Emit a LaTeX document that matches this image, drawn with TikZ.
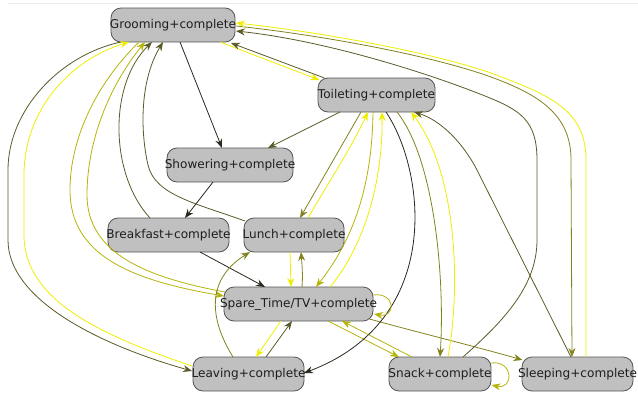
\documentclass[tikz,border=0pt]{standalone}
\usepackage{fontspec}
\setmainfont{DejaVu Sans}
\usetikzlibrary{arrows.meta,calc}
\definecolor{nodefill}{RGB}{192,192,192}
\definecolor{nodeborder}{RGB}{85,85,85}
\definecolor{textc}{RGB}{30,30,30}
\definecolor{cdark}{RGB}{40,40,28}
\definecolor{cdolive}{RGB}{90,90,40}
\definecolor{colive}{RGB}{130,130,30}
\definecolor{cyolive}{RGB}{180,180,10}
\definecolor{cyellow}{RGB}{238,238,0}
\definecolor{frameline}{RGB}{235,235,235}
\newcommand{\nodefnt}{\fontsize{12.1}{14}\selectfont}
\tikzset{
  st/.style={draw=nodeborder, fill=nodefill, rounded corners=10pt, minimum height=34pt,
             inner ysep=0pt, inner xsep=-12pt, text=textc, font=\nodefnt, line width=0.8pt},
  e/.style={-{Stealth[length=9pt,width=7pt,inset=3pt]}, line width=0.8pt},
  kdark/.style={e, draw=cdark},
  kdolive/.style={e, draw=cdolive},
  kolive/.style={e, draw=colive},
  kyolive/.style={e, draw=cyolive},
  kyellow/.style={e, draw=cyellow},
}
\begin{document}
\begin{tikzpicture}[x=1pt,y=-1pt]
\useasboundingbox (0,0) rectangle (638,394);
\draw[frameline, line width=1pt] (8,3) -- (638,3);

% nodes
\node[st, minimum width=124pt] (G) at (173,25) {Grooming+complete};
\node[st, minimum width=117pt] (T) at (376.5,95) {Toileting+complete};
\node[st, minimum width=126pt] (S) at (230,165) {Showering+complete};
\node[st, minimum width=121pt] (B) at (168.5,235) {Breakfast+complete};
\node[st, minimum width=100pt] (L) at (294,235) {Lunch+complete};
\node[st, minimum width=149pt] (P) at (298.5,304) {Spare\_Time/TV+complete};
\node[st, minimum width=111pt] (V) at (248.5,374) {Leaving+complete};
\node[st, minimum width=102pt] (N) at (440,374) {Snack+complete};
\node[st, minimum width=111pt] (Z) at (577.5,374) {Sleeping+complete};

% straight edges
\draw[kdark] ($(G)+(7,17)$) -- ($(S)+(-8,-17)$);
\draw[kdolive] ($(T)+(-36.5,17)$) -- ($(S)+(38,-17)$);
\draw[kdark] ($(S)+(-17,17)$) -- ($(B)+(16.5,-17)$);
\draw[kdark] ($(B)+(31.5,17)$) -- ($(P)+(-33.5,-17)$);
\draw[kyellow] ($(L)+(-4,17)$) -- ($(P)+(-7.5,-17)$);
\draw[kolive] ($(P)+(3.5,-17)$) .. controls (303,275) and (302,265) .. ($(L)+(7,17)$);
\draw[kolive] ($(T)+(-15.5,17)$) -- ($(L)+(6,-17)$);
\draw[kyellow] ($(L)+(14,-17)$) .. controls (330,180) and (350,150) .. ($(T)+(-8.5,17)$);
\draw[kyellow] ($(P)+(-17.5,17)$) -- ($(V)+(7.5,-17)$);
\draw[kdolive] ($(V)+(17.5,-17)$) -- ($(P)+(-6.5,17)$);
\draw[kyolive] ($(P)+(29.5,17)$) -- ($(N)+(-41,-17)$);
\draw[kyolive] ($(N)+(-28,-17)$) -- ($(P)+(43.5,17)$);
\draw[kolive] ($(P)+(71,15)$) .. controls (420,333) and (470,345) .. ($(Z)+(-55,-14)$);
\draw[kyellow] ($(G)+(47,17)$) -- ($(T)+(-57,-15)$);
\draw[kdolive] ($(T)+(-52,-17)$) -- ($(G)+(58,18)$);

% curved edges
\draw[kdolive] ($(B)+(-18.5,-17)$) .. controls (110,175) and (108,85) .. ($(G)+(-21,17)$);
\draw[kdolive] ($(L)+(-49,-14)$) .. controls (195,203) and (155,195) .. (148,165)
   .. controls (140,130) and (140,80) .. ($(G)+(-10,17)$);
\draw[kyolive] ($(T)+(-3.5,17)$) .. controls (372,200) and (345,250) .. ($(P)+(17.5,-17)$);
\draw[kyellow] ($(P)+(31.5,-17)$) .. controls (365,245) and (383,180) .. ($(T)+(5.5,17)$);
\draw[kdark] ($(T)+(9.5,17)$) .. controls (425,170) and (445,320) .. ($(V)+(55.5,-1)$);
\draw[kolive] ($(T)+(20.5,17)$) .. controls (435,160) and (445,280) .. ($(N)+(0,-17)$);
\draw[kyellow] ($(N)+(8,-17)$) .. controls (462,280) and (455,170) .. ($(T)+(34.5,17)$);
\draw[kdolive] ($(Z)+(-6.5,-17)$) -- (478,172) .. controls (463,142) and (440,120) .. ($(T)+(37.5,17)$);
\draw[kdolive] ($(N)+(23,-17)$) .. controls (505,320) and (537,285) .. (537,240) -- (537,160)
   .. controls (537,120) and (520,110) .. (485,96)
   .. controls (420,70) and (320,40) .. ($(G)+(63,6)$);
\draw[kolive] ($(G)+(63,1)$) .. controls (320,35) and (430,55) .. (491,77)
   .. controls (540,95) and (571,115) .. (571,160) -- ($(Z)+(-5.5,-17)$);
\draw[kyellow] ($(Z)+(8.5,-17)$) -- (586,160) .. controls (586,110) and (550,95) .. (491,73)
   .. controls (430,52) and (320,32) .. ($(G)+(63,-2)$);
\draw[kdolive] ($(G)+(-52,17)$) .. controls (60,55) and (8,110) .. (8,170) -- (8,240)
   .. controls (8,300) and (100,345) .. ($(V)+(-56.5,-3)$);
\draw[kyellow] ($(V)+(-56.5,-8)$) .. controls (100,335) and (24,300) .. (24,235) -- (24,175)
   .. controls (24,110) and (70,60) .. ($(G)+(-44,17)$);
\draw[kyolive] ($(G)+(-34,17)$) .. controls (95,85) and (70,140) .. (70,190)
   .. controls (70,255) and (130,280) .. ($(P)+(-74.5,-8)$);
\draw[kyolive] ($(P)+(-73.5,-12)$) .. controls (150,278) and (87,255) .. (87,195)
   .. controls (87,140) and (110,85) .. ($(G)+(-28,17)$);
\draw[kolive] ($(V)+(-15.5,-17)$) .. controls (210,320) and (205,280) .. ($(L)+(-44,17)$);

% self loops
\draw[kyolive] ($(P)+(74.5,-9)$) .. controls (396,292) and (396,318) .. ($(P)+(75.5,10)$);
\draw[kyolive] ($(N)+(51,-11)$) .. controls (514,360) and (514,390) .. ($(N)+(51.5,11)$);
\end{tikzpicture}
\end{document}
